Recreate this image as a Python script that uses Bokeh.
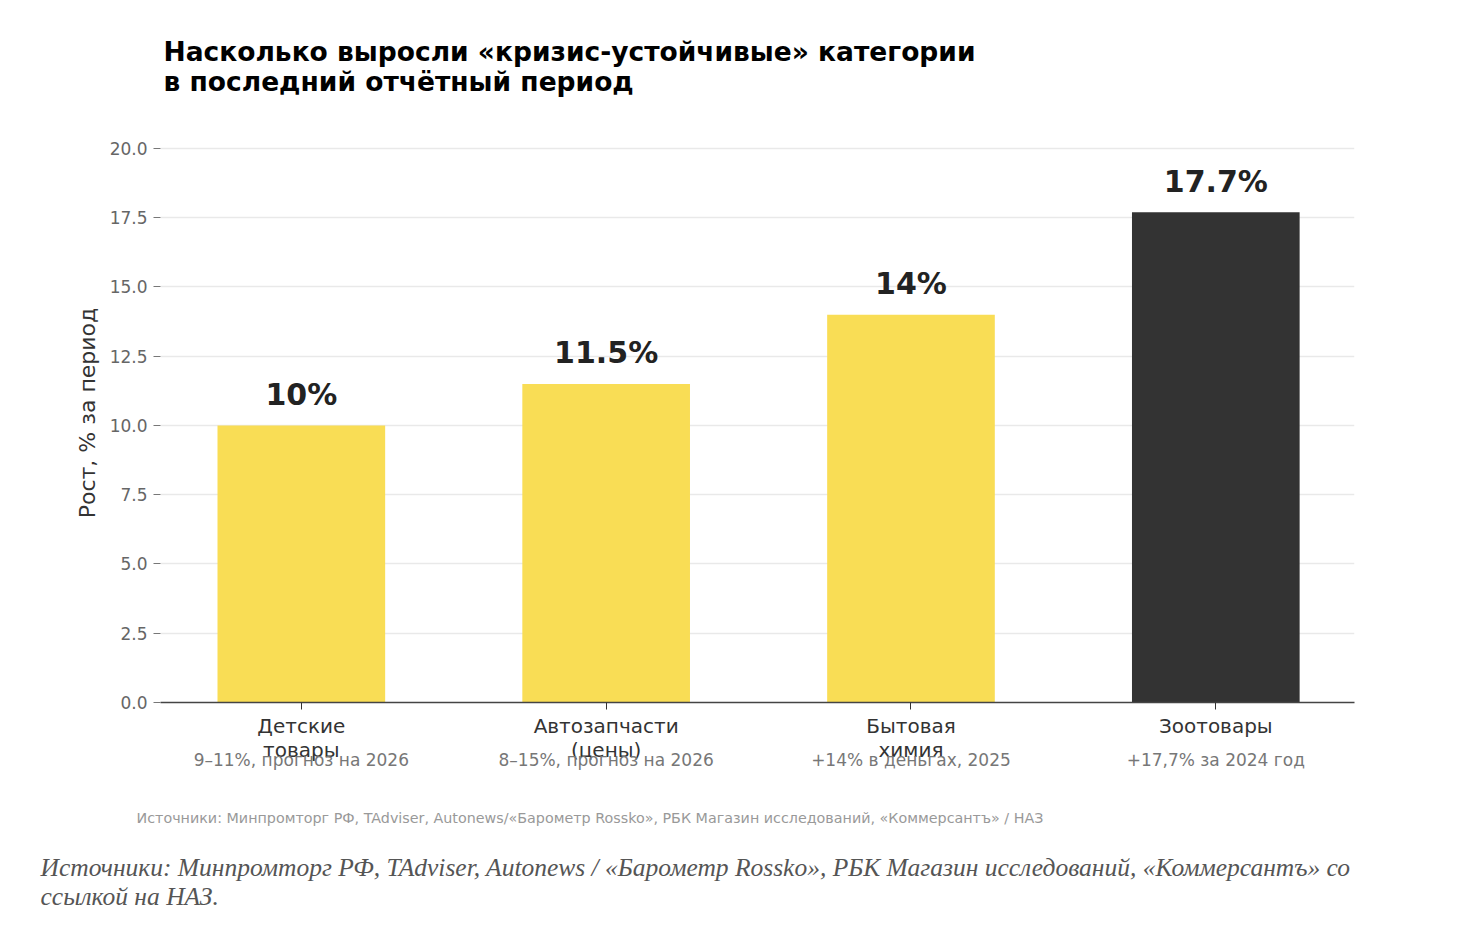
from bokeh.plotting import figure
from bokeh.models import (Range1d, FixedTicker, Label, NumeralTickFormatter,
                          LinearAxis, Title)
from bokeh.embed import file_html
from bokeh.resources import INLINE

# --- data -------------------------------------------------------------
cat_line1 = ["Детские", "Автозапчасти", "Бытовая", "Зоотовары"]
cat_line2 = ["товары", "(цены)", "химия", ""]
growth = [10.0, 11.5, 14.0, 17.7]
value_labels = ["10%", "11.5%", "14%", "17.7%"]
notes = ["9–11%, прогноз на 2026", "8–15%, прогноз на 2026",
         "+14% в деньгах, 2025", "+17,7% за 2024 год"]
bar_colors = ["#F9DD55", "#F9DD55", "#F9DD55", "#333333"]
y_ticks = [0, 2.5, 5, 7.5, 10, 12.5, 15, 17.5, 20]

title_lines = ["Насколько выросли «кризис-устойчивые» категории",
               "в последний отчётный период"]
source_small = ("Источники: Минпромторг РФ, TAdviser, Autonews/«Барометр Rossko», "
                "РБК Магазин исследований, «Коммерсантъ» / НАЗ")
caption_lines = ["Источники: Минпромторг РФ, TAdviser, Autonews / «Барометр Rossko», "
                 "РБК Магазин исследований, «Коммерсантъ» со",
                 "ссылкой на НАЗ."]

FONT = "DejaVu Sans"
xs = list(range(len(growth)))

p = figure(width=1478, height=946, output_backend="svg", toolbar_location=None,
           x_range=Range1d(-0.462, 3.455), y_range=Range1d(0, 20.9),
           min_border_left=160, min_border_right=124,
           min_border_top=123, min_border_bottom=244)
p.background_fill_color = "white"
p.border_fill_color = "white"
p.outline_line_color = None
p.title = None

p.vbar(x=xs, top=growth, width=0.55, color=bar_colors, line_color=None)

# y axis
ya = p.yaxis[0]
ya.ticker = FixedTicker(ticks=y_ticks)
ya.formatter = NumeralTickFormatter(format="0.0")
ya.axis_line_color = None
ya.major_tick_in = 0
ya.major_tick_out = 7
ya.major_tick_line_color = "#777777"
ya.minor_tick_line_color = None
ya.major_label_text_font = FONT
ya.major_label_text_font_size = "17px"
ya.major_label_text_color = "#666666"
ya.major_label_standoff = 6
ya.axis_label = "Рост, % за период"
ya.axis_label_text_font = FONT
ya.axis_label_text_font_size = "22px"
ya.axis_label_text_font_style = "normal"
ya.axis_label_text_color = "#333333"
ya.axis_label_standoff = 7

# x axis: first line of the category names
xa = p.xaxis[0]
xa.ticker = FixedTicker(ticks=xs)
xa.major_label_overrides = {i: c for i, c in zip(xs, cat_line1)}
xa.major_label_text_font = FONT
xa.major_label_text_font_size = "20px"
xa.major_label_text_color = "#333333"
xa.major_label_standoff = 4
xa.axis_line_color = "#444444"
xa.axis_line_width = 1.5
xa.major_tick_in = 0
xa.major_tick_out = 7
xa.major_tick_line_color = "#333333"
xa.minor_tick_line_color = None


def label_axis(texts, size, color, standoff):
    return LinearAxis(ticker=FixedTicker(ticks=xs),
                      major_label_overrides={i: t for i, t in zip(xs, texts)},
                      major_label_text_font=FONT, major_label_text_font_size=size,
                      major_label_text_color=color, major_label_standoff=standoff,
                      axis_line_color=None, major_tick_line_color=None,
                      minor_tick_line_color=None, major_tick_in=0, major_tick_out=0)


# second line of the category names, then the notes
p.add_layout(label_axis(cat_line2, "20px", "#333333", -3), "below")
p.add_layout(label_axis(notes, "17px", "#777777", -15), "below")

p.xgrid.grid_line_color = None
p.ygrid.ticker = FixedTicker(ticks=y_ticks)
p.ygrid.grid_line_color = "#e9e9e9"
p.ygrid.grid_line_width = 1.5

# values above bars
for x, v, t in zip(xs, growth, value_labels):
    p.add_layout(Label(x=x, y=v, text=t, x_units="data", y_units="data",
                       y_offset=31, text_align="center", text_baseline="alphabetic",
                       text_font=FONT, text_font_size="30px", text_font_style="bold",
                       text_color="#222222"))

# title (later additions sit further from the frame)
p.add_layout(Title(text=title_lines[1], align="left", offset=3, standoff=53,
                   text_font=FONT, text_font_size="26.5px", text_font_style="bold",
                   text_color="#000000"), "above")
p.add_layout(Title(text=title_lines[0], align="left", offset=3, standoff=-58,
                   text_font=FONT, text_font_size="26.5px", text_font_style="bold",
                   text_color="#000000"), "above")

# sources
p.add_layout(Title(text=source_small, align="left", offset=-24, standoff=70,
                   text_font=FONT, text_font_size="14.3px", text_font_style="normal",
                   text_color="#999999"), "below")
p.add_layout(Title(text=caption_lines[0], align="left", offset=-120, standoff=-19,
                   text_font="Liberation Serif", text_font_size="25.5px",
                   text_font_style="italic", text_color="#555555"), "below")
p.add_layout(Title(text=caption_lines[1], align="left", offset=-120, standoff=14,
                   text_font="Liberation Serif", text_font_size="25.5px",
                   text_font_style="italic", text_color="#555555"), "below")

open("out.html", "w").write(file_html(p, INLINE))
